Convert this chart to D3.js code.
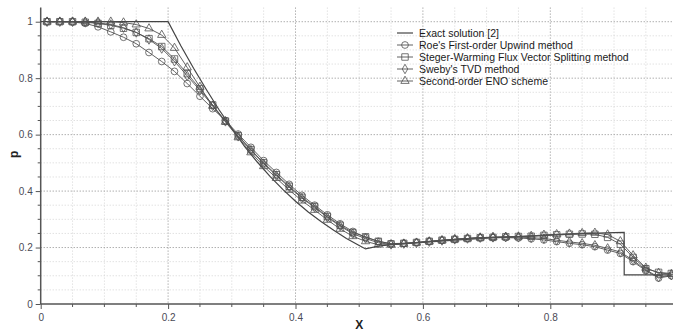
<!DOCTYPE html>
<html>
<head>
<meta charset="utf-8">
<script src="https://cdn.jsdelivr.net/npm/d3@7"></script>
<style>
  body { margin: 0; background: #fff; }
  svg { display: block; font-family: "Liberation Sans", Arial, sans-serif; }
</style>
</head>
<body>
<div id="chart"></div>
<script>
// cell centres (50 cells)
const cellX = [0.01, 0.03, 0.05, 0.07, 0.09, 0.11, 0.13, 0.15, 0.17, 0.19,
  0.21, 0.23, 0.25, 0.27, 0.29, 0.31, 0.33, 0.35, 0.37, 0.39,
  0.41, 0.43, 0.45, 0.47, 0.49, 0.51, 0.53, 0.55, 0.57, 0.59,
  0.61, 0.63, 0.65, 0.67, 0.69, 0.71, 0.73, 0.75, 0.77, 0.79,
  0.81, 0.83, 0.85, 0.87, 0.89, 0.91, 0.93, 0.95, 0.97, 0.99];

const roe = [1.000, 1.000, 0.999, 0.994, 0.982, 0.964, 0.945, 0.922, 0.891, 0.859,
  0.824, 0.781, 0.736, 0.692, 0.650, 0.602, 0.555, 0.508, 0.466, 0.424,
  0.385, 0.350, 0.316, 0.284, 0.257, 0.236, 0.222, 0.214, 0.215, 0.218,
  0.222, 0.226, 0.229, 0.232, 0.234, 0.235, 0.235, 0.234, 0.231, 0.227,
  0.221, 0.215, 0.210, 0.203, 0.191, 0.179, 0.150, 0.118, 0.092, 0.100];

const stegerWarming = [1.000, 1.000, 1.000, 0.998, 0.994, 0.987, 0.977, 0.962, 0.940, 0.912,
  0.868, 0.816, 0.763, 0.705, 0.648, 0.596, 0.547, 0.500, 0.458, 0.417,
  0.378, 0.345, 0.310, 0.279, 0.253, 0.238, 0.222, 0.213, 0.215, 0.218,
  0.222, 0.226, 0.229, 0.232, 0.235, 0.236, 0.238, 0.239, 0.240, 0.243,
  0.245, 0.247, 0.248, 0.247, 0.236, 0.212, 0.165, 0.125, 0.112, 0.108];

const sweby = [1.000, 1.000, 1.000, 0.999, 0.996, 0.990, 0.979, 0.962, 0.937, 0.905,
  0.860, 0.808, 0.757, 0.702, 0.647, 0.594, 0.545, 0.497, 0.455, 0.414,
  0.375, 0.342, 0.307, 0.276, 0.249, 0.232, 0.217, 0.211, 0.214, 0.217,
  0.221, 0.225, 0.229, 0.232, 0.235, 0.236, 0.237, 0.237, 0.235, 0.232,
  0.226, 0.220, 0.215, 0.208, 0.197, 0.184, 0.155, 0.121, 0.095, 0.102];

const eno = [1.000, 1.000, 1.000, 1.000, 1.000, 1.000, 0.997, 0.990, 0.976, 0.953,
  0.907, 0.838, 0.769, 0.702, 0.645, 0.590, 0.537, 0.488, 0.446, 0.404,
  0.366, 0.333, 0.298, 0.266, 0.240, 0.222, 0.210, 0.210, 0.213, 0.217,
  0.221, 0.225, 0.229, 0.232, 0.235, 0.237, 0.238, 0.239, 0.241, 0.245,
  0.247, 0.249, 0.251, 0.252, 0.246, 0.222, 0.172, 0.128, 0.110, 0.106];

const exactX = [0, 0.20, 0.22, 0.24, 0.26, 0.28, 0.30, 0.32, 0.34, 0.36, 0.38, 0.40,
  0.42, 0.44, 0.46, 0.48, 0.50, 0.51, 0.53, 0.55, 0.60, 0.65, 0.70, 0.75,
  0.80, 0.85, 0.90, 0.916, 0.916, 1.0];
const exactP = [1, 1, 0.915, 0.835, 0.760, 0.688, 0.622, 0.558, 0.503, 0.452, 0.406, 0.364,
  0.326, 0.292, 0.261, 0.232, 0.207, 0.195, 0.205, 0.210, 0.218, 0.226, 0.233, 0.239,
  0.244, 0.249, 0.253, 0.254, 0.103, 0.103];

const seriesNames = ['Exact solution [2]', "Roe's First-order Upwind method",
  'Steger-Warming Flux Vector Splitting method', "Sweby's TVD method", 'Second-order ENO scheme'];
const xTicks = [0, 0.2, 0.4, 0.6, 0.8];
const yTicks = [0, 0.2, 0.4, 0.6, 0.8, 1];

const width = 673;
const height = 334;

const x = d3.scaleLinear().domain([0, 1]).range([40.7, 677.7]);
const y = d3.scaleLinear().domain([0, 1.05]).range([304, 7.6]);

const svg = d3.select('#chart').append('svg')
  .attr('width', width)
  .attr('height', height);

const minorX = d3.range(0, 1.0001, 0.05);
const minorY = d3.range(0, 1.0001, 0.05);
const isMajor = (ticks, d) => ticks.some(t => Math.abs(t - d) < 1e-6);

// grid
const grid = svg.append('g').attr('fill', 'none');
grid.selectAll('.vminor')
  .data(minorX.filter(d => d > 0.001))
  .join('line')
  .attr('x1', d => x(d)).attr('x2', d => x(d))
  .attr('y1', y(1.05)).attr('y2', y(0))
  .attr('stroke', d => isMajor(xTicks, d) ? '#8a8a8a' : '#d4d4d4')
  .attr('stroke-width', 1)
  .attr('stroke-dasharray', '1,2');
grid.selectAll('.hminor')
  .data(minorY.filter(d => d > 0.001))
  .join('line')
  .attr('x1', x(0)).attr('x2', width)
  .attr('y1', d => y(d)).attr('y2', d => y(d))
  .attr('stroke', d => isMajor(yTicks, d) ? '#8a8a8a' : '#d4d4d4')
  .attr('stroke-width', 1)
  .attr('stroke-dasharray', '1,2');

// axes
const fmt = d => d === 0 ? '0' : d3.format('.1~f')(d);

const xAxis = svg.append('g')
  .attr('transform', `translate(0,${y(0)})`)
  .call(d3.axisBottom(x).tickValues(xTicks).tickSize(5).tickPadding(5).tickFormat(fmt));
xAxis.append('g').selectAll('line')
  .data(minorX.filter(d => !isMajor(xTicks, d)))
  .join('line')
  .attr('x1', d => x(d)).attr('x2', d => x(d))
  .attr('y1', 0).attr('y2', 3)
  .attr('stroke', '#555');
xAxis.select('.domain').attr('d', `M${x(0)},0H${width}`);

const yAxis = svg.append('g')
  .attr('transform', `translate(${x(0)},0)`)
  .call(d3.axisLeft(y).tickValues(yTicks).tickSize(5).tickPadding(3).tickFormat(fmt));
yAxis.append('g').selectAll('line')
  .data(minorY.filter(d => !isMajor(yTicks, d)))
  .join('line')
  .attr('x1', -3).attr('x2', 0)
  .attr('y1', d => y(d)).attr('y2', d => y(d))
  .attr('stroke', '#555');
yAxis.select('.domain').attr('d', `M0,${y(1.05)}V${y(0)}`);

svg.selectAll('.domain').attr('stroke', '#555').attr('stroke-width', 1.5);
svg.selectAll('.tick line').attr('stroke', '#555');
svg.selectAll('.tick text')
  .attr('fill', '#4a4a55')
  .style('font-size', '10px')
  .style('font-family', '"Liberation Sans", Arial, sans-serif');

svg.append('text')
  .attr('x', x(0.5)).attr('y', 329)
  .attr('text-anchor', 'middle')
  .style('font-size', '12px').style('font-weight', 'bold')
  .attr('fill', '#222')
  .text('X');
svg.append('text')
  .attr('transform', `translate(18,${y(0.53)}) rotate(-90)`)
  .attr('text-anchor', 'middle')
  .style('font-size', '12px').style('font-weight', 'bold')
  .attr('fill', '#222')
  .text('p');

// marker shapes
const markerPath = {
  circle: d3.symbol().type(d3.symbolCircle).size(36)(),
  square: d3.symbol().type(d3.symbolSquare).size(42)(),
  diamond: d3.symbol().type(d3.symbolDiamond).size(26)(),
  triangle: d3.symbol().type(d3.symbolTriangle).size(30)()
};

const line = d3.line().x(d => x(d[0])).y(d => y(d[1]));

const numeric = [
  { name: seriesNames[1], values: roe, shape: 'circle' },
  { name: seriesNames[2], values: stegerWarming, shape: 'square' },
  { name: seriesNames[3], values: sweby, shape: 'diamond' },
  { name: seriesNames[4], values: eno, shape: 'triangle' }
];

const plot = svg.append('g');

// exact solution
plot.append('path')
  .datum(exactX.map((v, i) => [v, exactP[i]]))
  .attr('d', line)
  .attr('fill', 'none')
  .attr('stroke', '#444')
  .attr('stroke-width', 1.2);

numeric.forEach(s => {
  const pts = cellX.map((v, i) => [v, s.values[i]]);
  plot.append('path')
    .datum(pts)
    .attr('d', line)
    .attr('fill', 'none')
    .attr('stroke', '#505050')
    .attr('stroke-width', 0.9);
  plot.append('g')
    .selectAll('path')
    .data(pts)
    .join('path')
    .attr('d', markerPath[s.shape])
    .attr('transform', d => `translate(${x(d[0])},${y(d[1])})`)
    .attr('fill', 'none')
    .attr('stroke', '#505050')
    .attr('stroke-width', 0.8);
});

// legend
const legend = svg.append('g').attr('transform', 'translate(397,33)');
const legendRows = [{ name: seriesNames[0], shape: null }].concat(numeric);
legendRows.forEach((s, i) => {
  const row = legend.append('g').attr('transform', `translate(0,${i * 12})`);
  row.append('line')
    .attr('x1', 0).attr('x2', 16)
    .attr('stroke', s.shape ? '#505050' : '#444')
    .attr('stroke-width', s.shape ? 0.9 : 1.2);
  if (s.shape) {
    row.append('path')
      .attr('d', markerPath[s.shape])
      .attr('transform', 'translate(8,0)')
      .attr('fill', 'none')
      .attr('stroke', '#505050')
      .attr('stroke-width', 0.8);
  }
  row.append('text')
    .attr('x', 22).attr('y', 4)
    .style('font-size', '10.5px')
    .attr('fill', '#1a1a1a')
    .text(s.name);
});
</script>
</body>
</html>
